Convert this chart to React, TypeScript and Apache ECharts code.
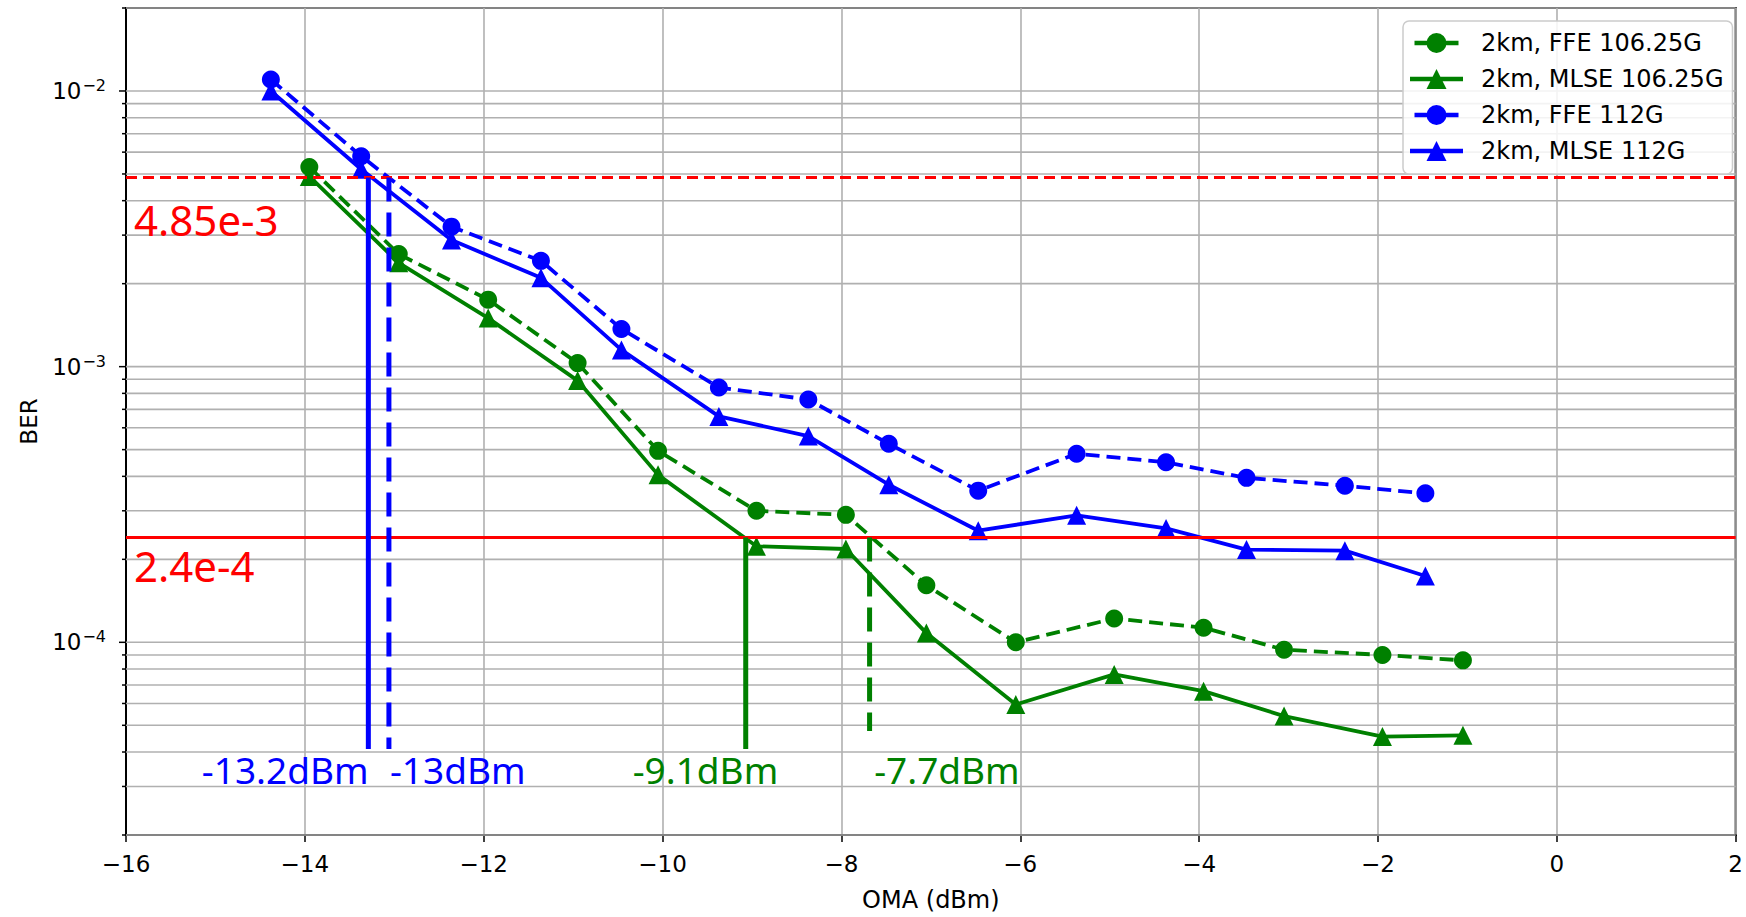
import React, { useEffect, useRef } from "react";
import * as echarts from "echarts";

// ---- data ----
const xGreen = [-13.95, -12.95, -11.95, -10.95, -10.05, -8.95, -7.95, -7.05, -6.05, -4.95, -3.95, -3.05, -1.95, -1.05];
const berFfe106 = [5.3e-3, 2.56e-3, 1.75e-3, 1.03e-3, 4.95e-4, 3.0e-4, 2.9e-4, 1.61e-4, 1.0e-4, 1.22e-4, 1.13e-4, 9.4e-5, 9.0e-5, 8.6e-5];
const berMlse106 = [4.9e-3, 2.38e-3, 1.5e-3, 8.9e-4, 4.05e-4, 2.23e-4, 2.18e-4, 1.08e-4, 5.95e-5, 7.65e-5, 6.65e-5, 5.4e-5, 4.55e-5, 4.6e-5];
const xBlue = [-14.38, -13.37, -12.36, -11.36, -10.46, -9.37, -8.37, -7.47, -6.47, -5.37, -4.37, -3.47, -2.37, -1.47];
const berFfe112 = [1.1e-2, 5.8e-3, 3.22e-3, 2.42e-3, 1.37e-3, 8.4e-4, 7.6e-4, 5.25e-4, 3.55e-4, 4.83e-4, 4.5e-4, 3.95e-4, 3.7e-4, 3.47e-4];
const berMlse112 = [1.0e-2, 5.2e-3, 2.88e-3, 2.1e-3, 1.15e-3, 6.6e-4, 5.6e-4, 3.73e-4, 2.54e-4, 2.89e-4, 2.59e-4, 2.17e-4, 2.15e-4, 1.74e-4];

const seriesNames = ["2km, FFE 106.25G", "2km, MLSE 106.25G", "2km, FFE 112G", "2km, MLSE 112G"];

// thresholds
const thresholdValues = [4.85e-3, 2.4e-4];
const thresholdDashed = [true, false];
const thresholdLabels = ["4.85e-3", "2.4e-4"];
const thresholdLabelX = [-15.91, -15.91];
const thresholdLabelY = [3.42e-3, 1.9e-4];

// sensitivity cut lines
const cutX = [-13.29, -13.06, -9.07, -7.685];
const cutTop = [4.85e-3, 4.85e-3, 2.4e-4, 2.4e-4];
const cutBottom = [4.1e-5, 4.1e-5, 4.1e-5, 4.77e-5];
const cutColor = ["#0000ff", "#0000ff", "#008000", "#008000"];
const cutDashed = [false, true, false, true];
const cutLabels = ["-13.2dBm", "-13dBm", "-9.1dBm", "-7.7dBm"];
const cutLabelX = [-14.22, -12.29, -9.52, -6.82];
const cutLabelY = [3.46e-5, 3.46e-5, 3.46e-5, 3.46e-5];

// axes
const xMin = -16;
const xMax = 2;
const xStep = 2;
const yMin = 2e-5;
const yMax = 2e-2;

const yGridValues: number[] = [];
for (let e = -5; e <= -2; e++) {
  for (let m = 1; m <= 9; m++) {
    const v = m * Math.pow(10, e);
    if (v >= yMin * 0.999 && v <= yMax * 1.001) yGridValues.push(v);
  }
}

const GREEN = "#008000";
const BLUE = "#0000ff";
const RED = "#ff0000";
const TICK_FONT = "DejaVu Sans";

// legend icons (line + marker), sized in pixels; all sub-paths wound clockwise
const ICON_CIRCLE = "path://M0,7.75H44V12.25H0Z M12,10A10,10 0 1,1 32,10A10,10 0 1,1 12,10Z";
const ICON_TRIANGLE = "path://M0,7.75H53V12.25H0Z M26.5,0L36.5,20L16.5,20Z";

export default function App() {
  const ref = useRef<HTMLDivElement>(null);
  useEffect(() => {
    document.body.style.margin = "0";
    const chart = echarts.init(ref.current!, null, { renderer: "svg" });

    const dataSeries = (name: string, xs: number[], ys: number[], color: string, symbol: string, dashed: boolean): any => ({
      name,
      type: "line",
      z: 3,
      data: xs.map((x, i) => [x, ys[i]]),
      symbol,
      symbolSize: symbol === "circle" ? 18 : 19,
      showAllSymbol: true,
      lineStyle: { color, width: 3.8, type: dashed ? [14, 7] : "solid" },
      itemStyle: { color, borderWidth: 0 },
      emphasis: { disabled: true },
    });

    const cutSeries = cutX.map((x, i) => ({
      name: "cut" + i,
      type: "line",
      z: 5,
      data: [
        [x, cutTop[i]],
        [x, cutBottom[i]],
      ],
      symbol: "none",
      lineStyle: { color: cutColor[i], width: 5, type: cutDashed[i] ? [24, 11] : "solid" },
      emphasis: { disabled: true },
      silent: true,
    }));

    const legendData = seriesNames.map((n, i) => ({
      name: n,
      icon: i % 2 === 0 ? ICON_CIRCLE : ICON_TRIANGLE,
      itemStyle: { color: i < 2 ? GREEN : BLUE, borderWidth: 0 },
    }));

    const option: any = {
      animation: false,
      backgroundColor: "#ffffff",
      grid: {
        left: 126,
        right: 0,
        top: 8,
        bottom: 76,
        show: true,
        borderColor: "#000",
        borderWidth: 2,
        backgroundColor: "transparent",
      },
      legend: {
        data: legendData,
        orient: "vertical",
        left: 1403,
        top: 21,
        padding: [10, 9, 11, 7],
        itemGap: 12,
        itemWidth: 53,
        itemHeight: 20,
        symbolKeepAspect: true,
        backgroundColor: "rgba(255,255,255,0.85)",
        borderColor: "#cccccc",
        borderWidth: 1.5,
        borderRadius: 6,
        selectedMode: false,
        textStyle: { fontFamily: TICK_FONT, fontSize: 24, color: "#000", padding: [0, 0, 0, 13], lineHeight: 24 },
      },
      xAxis: {
        type: "value",
        min: xMin,
        max: xMax,
        interval: xStep,
        name: "OMA (dBm)",
        nameLocation: "middle",
        nameGap: 53,
        nameTextStyle: { fontFamily: TICK_FONT, fontSize: 24, color: "#000" },
        axisLine: { show: true, onZero: false, lineStyle: { color: "#000", width: 2 } },
        axisTick: { show: true, length: 7, lineStyle: { color: "#000", width: 1.5 } },
        axisLabel: {
          margin: 17,
          fontFamily: TICK_FONT,
          fontSize: 23,
          color: "#000",
          formatter: (v: number) => (v < 0 ? "\u2212" + Math.abs(v) : String(v)),
        },
        splitLine: { show: true, lineStyle: { color: "#b0b0b0", width: 1.6 } },
      },
      yAxis: {
        type: "log",
        logBase: 10,
        min: yMin,
        max: yMax,
        name: "BER",
        nameLocation: "middle",
        nameGap: 86,
        nameRotate: 90,
        nameTextStyle: { fontFamily: TICK_FONT, fontSize: 23, color: "#000" },
        axisLine: { show: true, onZero: false, lineStyle: { color: "#000", width: 2 } },
        axisTick: { show: false },
        splitLine: { show: false },
        minorTick: { show: false },
        axisLabel: {
          margin: 20,
          color: "#000",
          showMinLabel: false,
          showMaxLabel: false,
          formatter: (v: number) => {
            const e = Math.log10(v);
            const r = Math.round(e);
            if (Math.abs(e - r) > 1e-6) return "";
            return "{b|10}{s|\u2212" + Math.abs(r) + "}";
          },
          rich: {
            b: { fontFamily: TICK_FONT, fontSize: 23, color: "#000" },
            s: { fontFamily: TICK_FONT, fontSize: 16, color: "#000", padding: [0, 0, 11, 1] },
          },
        },
      },
      series: [
        {
          name: "ygrid",
          type: "custom",
          z: 1,
          silent: true,
          data: yGridValues.map((v) => [xMin, v]),
          renderItem: (params: any, api: any) => {
            const v = api.value(1);
            const p = api.coord([xMin, v]);
            const cs = params.coordSys;
            const le = Math.log10(v);
            const major = Math.abs(le - Math.round(le)) < 1e-6;
            return {
              type: "group",
              children: [
                {
                  type: "line",
                  shape: { x1: cs.x, y1: p[1], x2: cs.x + cs.width, y2: p[1] },
                  style: { stroke: "#b0b0b0", lineWidth: 1.6 },
                },
                {
                  type: "line",
                  shape: { x1: cs.x - (major ? 7 : 4), y1: p[1], x2: cs.x, y2: p[1] },
                  style: { stroke: "#000", lineWidth: 1.5 },
                },
              ],
            };
          },
        },
        dataSeries(seriesNames[0], xGreen, berFfe106, GREEN, "circle", true),
        dataSeries(seriesNames[1], xGreen, berMlse106, GREEN, "triangle", false),
        dataSeries(seriesNames[2], xBlue, berFfe112, BLUE, "circle", true),
        dataSeries(seriesNames[3], xBlue, berMlse112, BLUE, "triangle", false),
        {
          name: "thresholds",
          type: "custom",
          z: 4,
          silent: true,
          data: thresholdValues.map((v, i) => [xMin, v, i]),
          renderItem: (params: any, api: any) => {
            const i = api.value(2);
            const p = api.coord([xMin, api.value(1)]);
            const cs = params.coordSys;
            return {
              type: "line",
              shape: { x1: cs.x, y1: p[1], x2: cs.x + cs.width, y2: p[1] },
              style: { stroke: RED, lineWidth: 3, lineDash: thresholdDashed[i] ? [11, 6] : null },
            };
          },
        },
        ...cutSeries,
        {
          name: "thrLabels",
          type: "custom",
          z: 6,
          silent: true,
          data: thresholdLabels.map((_, i) => [thresholdLabelX[i], thresholdLabelY[i], i]),
          renderItem: (params: any, api: any) => {
            const i = api.value(2);
            const p = api.coord([api.value(0), api.value(1)]);
            return {
              type: "text",
              x: p[0],
              y: p[1],
              style: {
                text: thresholdLabels[i],
                fill: RED,
                font: '42px "Noto Sans"',
                align: "left",
                verticalAlign: "middle",
              },
            };
          },
        },
        {
          name: "cutLabels",
          type: "custom",
          z: 6,
          silent: true,
          data: cutLabels.map((_, i) => [cutLabelX[i], cutLabelY[i], i]),
          renderItem: (params: any, api: any) => {
            const i = api.value(2);
            const p = api.coord([api.value(0), api.value(1)]);
            return {
              type: "text",
              x: p[0],
              y: p[1],
              style: {
                text: cutLabels[i],
                fill: cutColor[i],
                font: '37px "Noto Sans"',
                align: "center",
                verticalAlign: "middle",
              },
            };
          },
        },
      ],
    };

    chart.setOption(option);
    return () => chart.dispose();
  }, []);
  return <div ref={ref} style={{ width: 1746, height: 917, background: "#fff" }} />;
}
